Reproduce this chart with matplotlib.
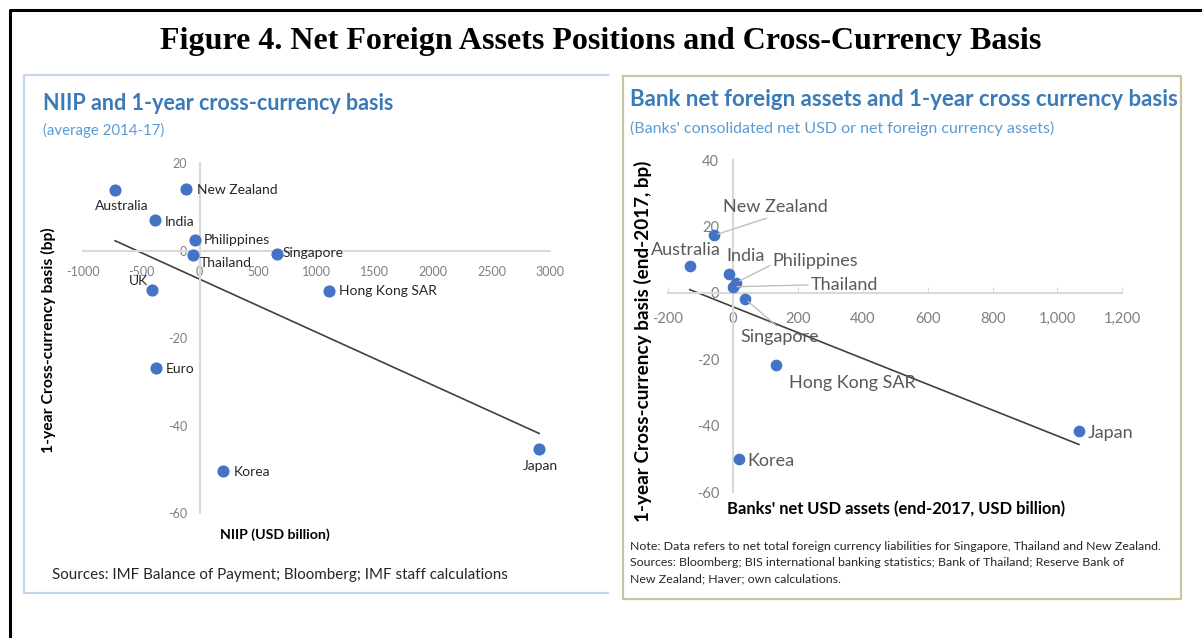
#!/usr/bin/env python3
'''Figure 4: net foreign assets positions and cross-currency basis'''
import numpy as np
import matplotlib
matplotlib.use("Agg")
import matplotlib.pyplot as plt
from matplotlib.lines import Line2D
from matplotlib.ticker import FuncFormatter

plt.rcParams['font.family'] = ['Lato', 'DejaVu Sans']
plt.rcParams['axes.unicode_minus'] = False

# left panel: NIIP vs 1-year basis (average 2014-17)
niip_countries = ['Australia', 'New Zealand', 'India', 'Philippines', 'Thailand',
                  'Singapore', 'UK', 'Hong Kong SAR', 'Euro', 'Korea', 'Japan']
niip = [-723, -118, -381, -39, -53, 666, -404, 1109, -375, 199, 2907]
basis_avg = [13.8, 14.0, 7.0, 2.4, -1.1, -0.8, -8.9, -9.2, -26.9, -50.4, -45.4]
niip_xticks = [-1000, -500, 0, 500, 1000, 1500, 2000, 2500, 3000]
niip_yticks = [20, 0, -20, -40, -60]

# right panel: banks' net USD assets vs basis (end-2017)
bank_countries = ['New Zealand', 'Australia', 'India', 'Philippines', 'Thailand',
                  'Singapore', 'Hong Kong SAR', 'Japan', 'Korea']
bank_nfa = [-59, -133, -12, 9, 0, 37, 132, 1066, 18]
basis_2017 = [17.3, 8.2, 5.8, 3.0, 1.8, -1.8, -21.8, -41.5, -50.0]
bank_xticks = [-200, 0, 200, 400, 600, 800, 1000, 1200]
bank_yticks = [40, 20, 0, -20, -40, -60]

W, H = 1202, 638
BLUE = '#4472c4'
TITLE_BLUE = '#3a7ab9'
SUB_BLUE = '#5b9bd5'


def fx(px):
    return px / W


def fy(py):
    return 1 - py / H


def frame_line(fig, xs, ys, color, lw):
    fig.add_artist(Line2D([fx(x) for x in xs], [fy(y) for y in ys],
                          transform=fig.transFigure, color=color, lw=lw))


fig = plt.figure(figsize=(W / 100, H / 100), dpi=100)

# outer frame and panel boxes
frame_line(fig, [10, 10, W], [H, 10, 10], 'black', 2.2)
frame_line(fig, [608, 24, 24, 608], [75, 75, 593, 593], '#c6d5ee', 1.6)
frame_line(fig, [623, 1181, 1181, 623, 623], [76, 76, 599, 599, 76], '#cbc49c', 1.6)

fig.text(0.5, fy(41), 'Figure 4. Net Foreign Assets Positions and Cross-Currency Basis',
         family='Liberation Serif', weight='bold', fontsize=23,
         ha='center', va='center')


def setup_axes(ax, xlim, ylim, xticks, yticks, size, xpad, ypad, xtick_len):
    ax.set_xlim(*xlim)
    ax.set_ylim(*ylim)
    for s in ('top', 'right'):
        ax.spines[s].set_visible(False)
    for s in ('left', 'bottom'):
        ax.spines[s].set_position(('data', 0))
        ax.spines[s].set_color('#d9d9d9')
        ax.spines[s].set_linewidth(1.5)
    ax.set_xticks(xticks)
    ax.set_yticks(yticks)
    ax.tick_params(axis='x', length=xtick_len, direction='in', color='#d9d9d9',
                   labelsize=size, labelcolor='#7f7f7f', pad=xpad)
    ax.tick_params(axis='y', length=0, labelsize=size, labelcolor='#7f7f7f', pad=ypad)
    ax.patch.set_alpha(0)


def trend(ax, x, y):
    k, b = np.polyfit(x, y, 1)
    xs = np.array([min(x), max(x)])
    ax.plot(xs, k * xs + b, color='#404040', lw=1.2, zorder=2)


# ---- left chart
ax1 = fig.add_axes([fx(82.7), fy(513.3), fx(550) - fx(82.7), fy(163) - fy(513.3)])
setup_axes(ax1, (-1000, 3000), (-60, 20), niip_xticks, niip_yticks, 9, 11, 9, 0)
trend(ax1, niip, basis_avg)
ax1.scatter(niip, basis_avg, s=60, color=BLUE, zorder=3, clip_on=False)

left_offsets = {
    'Australia': (7, -16, 'center'), 'New Zealand': (11, -1, 'left'),
    'India': (10, -2, 'left'), 'Philippines': (9, 0, 'left'),
    'Thailand': (6, -8, 'left'), 'Singapore': (5, 1, 'left'),
    'UK': (-14, 9, 'center'), 'Hong Kong SAR': (10, 0, 'left'),
    'Euro': (10, -1, 'left'), 'Korea': (11, -1, 'left'),
    'Japan': (1, -17, 'center'),
}
for name, x, y in zip(niip_countries, niip, basis_avg):
    dx, dy, ha = left_offsets[name]
    ax1.annotate(name, (x, y), xytext=(dx, dy), textcoords='offset pixels',
                 ha=ha, va='center', fontsize=10, color='#262626')

fig.text(fx(43), fy(103), 'NIIP and 1-year cross-currency basis', fontsize=15.5,
         weight='bold', color=TITLE_BLUE, va='center')
fig.text(fx(43), fy(130), '(average 2014-17)', fontsize=10.8, color=SUB_BLUE, va='center')
fig.text(fx(48), fy(340), '1-year Cross-currency basis (bp)', fontsize=11.3,
         weight='bold', rotation=90, ha='center', va='center')
fig.text(fx(275), fy(535), 'NIIP (USD billion)', fontsize=10.2, weight='bold',
         ha='center', va='center')
fig.text(fx(52), fy(575), 'Sources: IMF Balance of Payment; Bloomberg; IMF staff calculations',
         fontsize=10.9, color='#262626', va='center')

# ---- right chart
ax2 = fig.add_axes([fx(668), fy(492), fx(1122.4) - fx(668), fy(160) - fy(492)])
setup_axes(ax2, (-200, 1200), (-60, 40), bank_xticks, bank_yticks, 10.5, 14, 10, 4)
ax2.xaxis.set_major_formatter(FuncFormatter(lambda v, p: f'{v:,.0f}'))
trend(ax2, bank_nfa, basis_2017)
ax2.scatter(bank_nfa, basis_2017, s=55, color=BLUE, zorder=3, clip_on=False)

# name: (dx, dy, ha, leader relpos or None)
right_offsets = {
    'New Zealand': (9, 28, 'left', (0.5, 0)),
    'Australia': (-4, 16, 'center', None),
    'India': (17, 18, 'center', None),
    'Philippines': (37, 22, 'left', (0, 0.3)),
    'Thailand': (78, 2, 'left', (0, 0.5)),
    'Singapore': (35, -38, 'center', (0.5, 1)),
    'Hong Kong SAR': (13, -18, 'left', None),
    'Japan': (9, -2, 'left', None),
    'Korea': (9, -2, 'left', None),
}
for name, x, y in zip(bank_countries, bank_nfa, basis_2017):
    dx, dy, ha, rel = right_offsets[name]
    arrow = None
    if rel is not None:
        arrow = dict(arrowstyle='-', color='#bfbfbf', lw=1, relpos=rel,
                     shrinkA=0, shrinkB=3)
    ax2.annotate(name, (x, y), xytext=(dx, dy), textcoords='offset pixels',
                 ha=ha, va='center', fontsize=13, color='#595959',
                 arrowprops=arrow, zorder=4)

fig.text(fx(630), fy(99), 'Bank net foreign assets and 1-year cross currency basis',
         fontsize=16, weight='bold', color=TITLE_BLUE, va='center')
fig.text(fx(630), fy(128), "(Banks' consolidated net USD or net foreign currency assets)",
         fontsize=11.5, color=SUB_BLUE, va='center')
fig.text(fx(643), fy(341), '1-year Cross-currency basis (end-2017, bp)', fontsize=13.6,
         weight='bold', rotation=90, ha='center', va='center')
fig.text(fx(896), fy(509), "Banks' net USD assets (end-2017, USD billion)", fontsize=11.9,
         weight='bold', ha='center', va='center')
note = ("Note: Data refers to net total foreign currency liabilities for Singapore, Thailand and New Zealand.\n"
        "Sources: Bloomberg; BIS international banking statistics; Bank of Thailand; Reserve Bank of\n"
        "New Zealand; Haver; own calculations.")
fig.text(fx(630), fy(541), note, fontsize=8.9, color='#262626', va='top', linespacing=1.6)

fig.savefig('out.png', dpi=100)
